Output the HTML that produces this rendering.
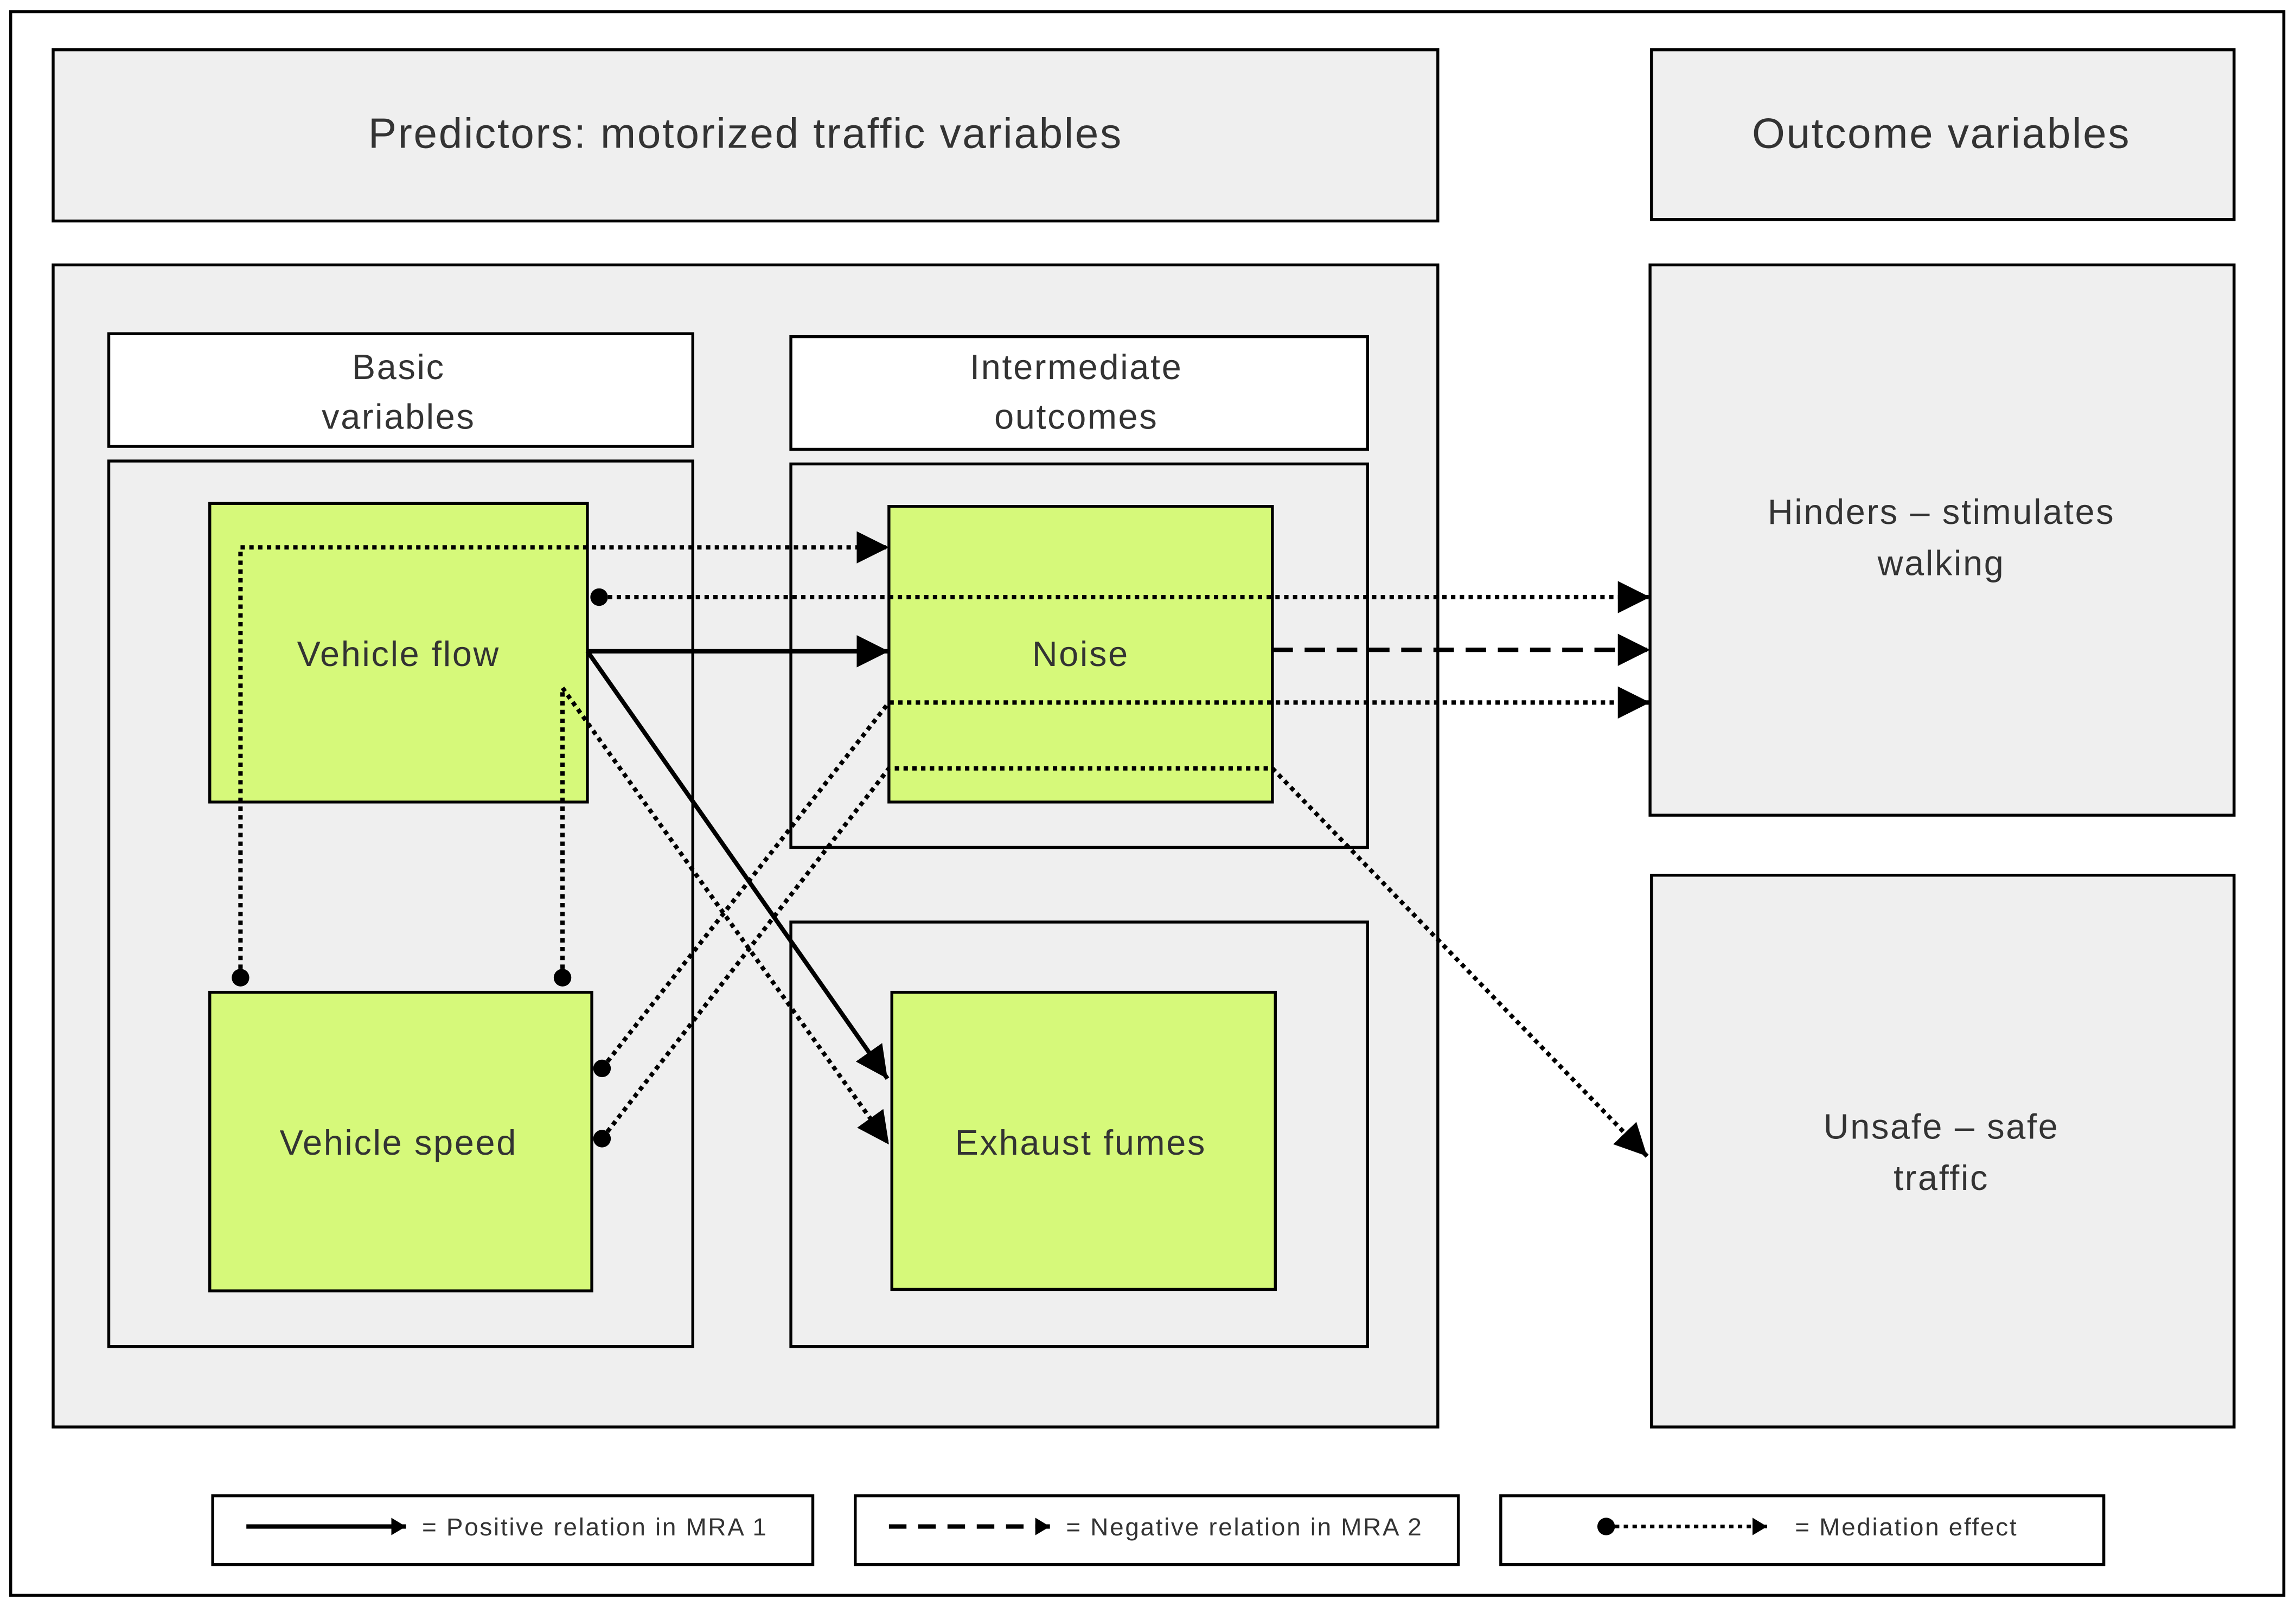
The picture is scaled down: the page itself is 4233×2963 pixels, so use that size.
<!DOCTYPE html>
<html><head><meta charset="utf-8"><style>html,body{margin:0;padding:0;background:#fff}svg{display:block}</style></head>
<body>
<svg width="4233" height="2963" viewBox="0 0 1568 1098" xmlns="http://www.w3.org/2000/svg" font-family="Liberation Sans, sans-serif" fill="#333">
<defs>
<marker id="a" markerUnits="userSpaceOnUse" markerWidth="24" markerHeight="22" refX="22" refY="11" orient="auto"><path d="M0,0 L22,11 L0,22 Z" fill="#000"/></marker>
<marker id="s" markerUnits="userSpaceOnUse" markerWidth="16" markerHeight="16" refX="10" refY="8" orient="auto"><path d="M0,2 L10,8 L0,14 Z" fill="#000"/></marker>
</defs>
<rect x="0" y="0" width="1568" height="1098" fill="#fff"/>
<rect x="7" y="8" width="1553" height="1082" fill="#fff" stroke="#000" stroke-width="2"/>
<g stroke="#000" stroke-width="2">
<rect x="36" y="34" width="946" height="117" fill="#efefef"/>
<rect x="1128" y="34" width="398" height="116" fill="#efefef"/>
<rect x="36" y="181" width="946" height="794" fill="#efefef"/>
<rect x="74" y="228" width="399" height="77" fill="#fff"/>
<rect x="540" y="230" width="394" height="77" fill="#fff"/>
<rect x="74" y="315" width="399" height="605" fill="#efefef"/>
<rect x="540" y="317" width="394" height="262" fill="#efefef"/>
<rect x="540" y="630" width="394" height="290" fill="#efefef"/>
<rect x="1127" y="181" width="399" height="376" fill="#efefef"/>
<rect x="1128" y="598" width="398" height="377" fill="#efefef"/>
<rect x="143" y="344" width="258" height="204" fill="#d6f97a"/>
<rect x="143" y="678" width="261" height="204" fill="#d6f97a"/>
<rect x="607" y="346" width="262" height="202" fill="#d6f97a"/>
<rect x="609" y="678" width="262" height="203" fill="#d6f97a"/>
<rect x="145" y="1022" width="410" height="47" fill="#fff"/>
<rect x="584" y="1022" width="412" height="47" fill="#fff"/>
<rect x="1025" y="1022" width="412" height="47" fill="#fff"/>
</g>
<g text-anchor="middle" letter-spacing="1">
<text x="509" y="101" font-size="29">Predictors: motorized traffic variables</text>
<text x="1326" y="101" font-size="29">Outcome variables</text>
<text x="272" y="259" font-size="24">Basic</text>
<text x="272" y="293" font-size="24">variables</text>
<text x="735" y="259" font-size="24">Intermediate</text>
<text x="735" y="293" font-size="24">outcomes</text>
<text x="272" y="455" font-size="24">Vehicle flow</text>
<text x="272" y="789" font-size="24">Vehicle speed</text>
<text x="738" y="455" font-size="24">Noise</text>
<text x="738" y="789" font-size="24">Exhaust fumes</text>
<text x="1326" y="358" font-size="24">Hinders – stimulates</text>
<text x="1326" y="393" font-size="24">walking</text>
<text x="1326" y="778" font-size="24">Unsafe – safe</text>
<text x="1326" y="813" font-size="24">traffic</text>
</g>
<g font-size="17" letter-spacing="1">
<text x="288" y="1049">= Positive relation in MRA 1</text>
<text x="728" y="1049">= Negative relation in MRA 2</text>
<text x="1226" y="1049">= Mediation effect</text>
</g>
<g fill="none" stroke="#000">
<g stroke-width="3" stroke-dasharray="3 3">
<path d="M164,668 V374 H607" marker-end="url(#a)"/>
<path d="M409,408 H1127" marker-end="url(#a)"/>
<path d="M411,730 L607,480 H1127" marker-end="url(#a)"/>
<path d="M411,778 L607,525 H869 L1125,790" marker-end="url(#a)"/>
<path d="M384,668 V470 L607,782" marker-end="url(#a)"/>
<path d="M1097,1043 H1207" stroke-width="2.5" marker-end="url(#s)"/>
</g>
<path d="M401,445 H607" stroke-width="3" marker-end="url(#a)"/>
<path d="M401,445 L606,737" stroke-width="3" marker-end="url(#a)"/>
<path d="M869,444 H1127" stroke-width="3" stroke-dasharray="14 8" marker-end="url(#a)"/>
<path d="M168,1043 H277" stroke-width="3" marker-end="url(#s)"/>
<path d="M607,1043 H717" stroke-width="3" stroke-dasharray="12 8" marker-end="url(#s)"/>
</g>
<g fill="#000">
<circle cx="164" cy="668" r="6"/><circle cx="384" cy="668" r="6"/>
<circle cx="409" cy="408" r="6"/><circle cx="411" cy="730" r="6"/><circle cx="411" cy="778" r="6"/>
<circle cx="1097" cy="1043" r="6"/>
</g>
</svg>
</body></html>
